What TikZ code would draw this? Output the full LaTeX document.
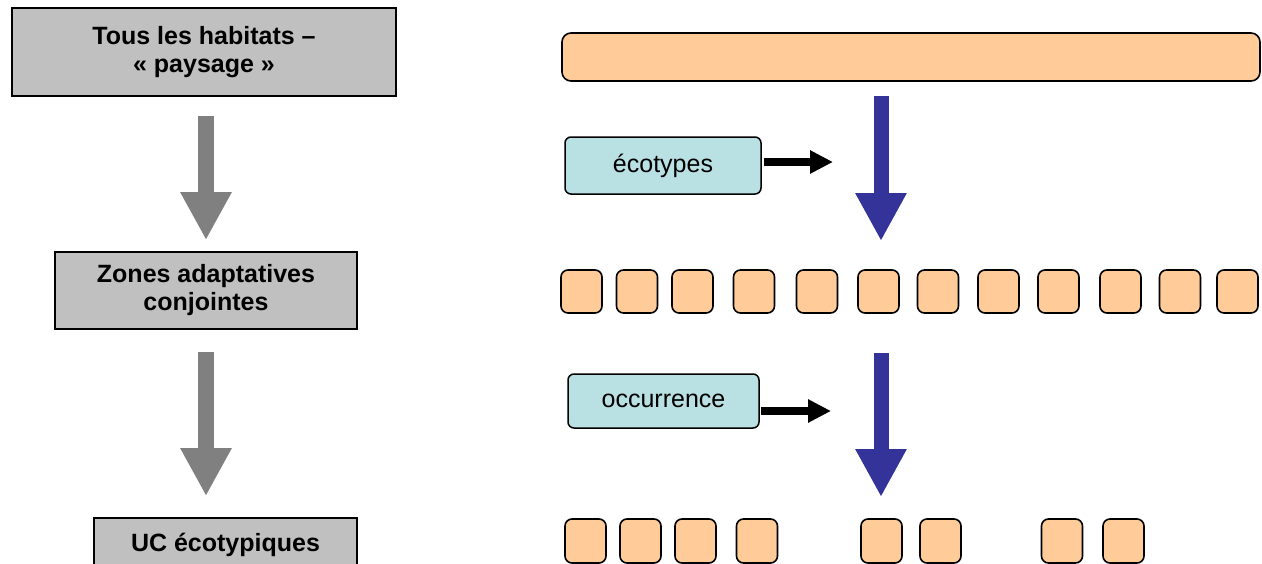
\documentclass[tikz,border=0pt]{standalone}
\usepackage{fontspec}
\setmainfont{Liberation Sans}
\usetikzlibrary{arrows.meta}
\definecolor{boxgray}{RGB}{192,192,192}
\definecolor{arrgray}{RGB}{128,128,128}
\definecolor{peach}{RGB}{255,204,153}
\definecolor{cyanbox}{RGB}{185,224,226}
\definecolor{darkblue}{RGB}{51,51,153}
\begin{document}
\begin{tikzpicture}[x=1pt,y=-1pt,
  graybox/.style={draw=black, line width=1.8pt, fill=boxgray, font=\fontsize{25}{28}\selectfont\bfseries, align=center, inner sep=0pt},
  grayarr/.style={draw=arrgray, line width=16pt, -{Triangle[width=48pt,length=48pt]}},
  bluearr/.style={draw=darkblue, line width=15pt, -{Triangle[width=48pt,length=48pt]}},
  blackarr/.style={draw=black, line width=8pt, -{Triangle[width=22pt,length=23pt]}},
  cyanlabel/.style={draw=black, line width=1.5pt, fill=cyanbox, rounded corners=6pt, font=\fontsize{25}{28}\selectfont, inner sep=0pt},
  smallbox/.style={draw=black, line width=1.6pt, fill=peach, rounded corners=7pt, minimum width=41pt, inner sep=0pt}
]
\useasboundingbox (0,0) rectangle (1262,563);

% left column
\node[graybox, minimum width=384pt, minimum height=88pt] (b1) at (204,52) {Tous les habitats --\\« paysage »};
\node[graybox, minimum width=302pt, minimum height=77pt] (b2) at (206,290.5) {Zones adaptatives\\conjointes};
\node[graybox, minimum width=263pt, minimum height=54pt] (b3) at (225.5,545) {UC écotypiques};
\draw[grayarr, shorten <=19pt, shorten >=11pt] (b2.north |- b1.south) -- (b2.north);
\draw[grayarr, shorten <=22pt, shorten >=21pt] (b2.south) -- (b2.south |- b3.north);

% right column
\node[draw=black, line width=1.6pt, fill=peach, rounded corners=9pt, minimum width=698pt, minimum height=48pt, inner sep=0pt] (bar) at (911,57) {};

\foreach \x [count=\i] in {581.5,637,692.5,754,817,878.5,938,998.5,1058.5,1120.5,1180,1237.5}
  \node[smallbox, minimum height=43pt] (r\i) at (\x,291.5) {};
\foreach \x [count=\i] in {585.5,640.5,695.5,757,881.5,940.5,1062,1123.5}
  \node[smallbox, minimum height=44pt] (s\i) at (\x,541) {};

\coordinate (bl1) at (881,241);
\coordinate (bl2) at (881,497);
\draw[bluearr, shorten <=14pt] (bar.south -| bl1) -- (bl1);
\draw[bluearr, shorten <=39pt] (r6.south -| bl2) -- (bl2);

\node[cyanlabel, minimum width=196pt, minimum height=57pt] (eco) at (663,165.5) {écotypes};
\node[cyanlabel, minimum width=191pt, minimum height=54pt] (occ) at (663.5,401) {occurrence};
\coordinate (ta) at (833,162);
\coordinate (tb) at (831,411);
\draw[blackarr, shorten <=2pt] (eco.east |- ta) -- (ta);
\draw[blackarr, shorten <=1pt] (occ.east |- tb) -- (tb);
\end{tikzpicture}
\end{document}
